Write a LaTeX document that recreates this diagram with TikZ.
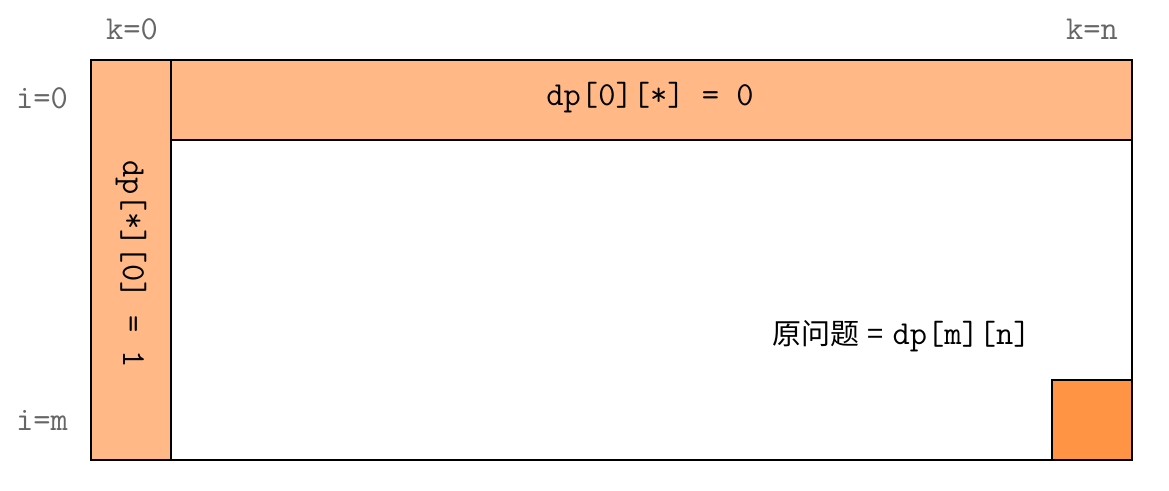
\documentclass[tikz,border=0pt]{standalone}
\usepackage{fontspec}
\newfontfamily\cjk{Noto Sans CJK SC}
\definecolor{lightor}{HTML}{FFB886}
\definecolor{darkor}{HTML}{FF9444}
\definecolor{lblgray}{HTML}{666666}
\begin{document}
\begin{tikzpicture}[x=1pt,y=-1pt,
  cell/.style={draw=black,line width=2pt,inner sep=0pt,outer sep=0pt,anchor=north west},
  mono/.style={font=\fontsize{33.5}{36}\selectfont\ttfamily,inner sep=0pt},
  lbl/.style={mono,text=lblgray}]
\useasboundingbox (0,0) rectangle (1169,490);
\node[cell,fill=white,minimum width=1041pt,minimum height=400pt] (grid) at (91,60) {};
\node[cell,fill=lightor,minimum width=961pt,minimum height=80pt] (toprow) at (171,60) {};
\node[cell,fill=lightor,minimum width=80pt,minimum height=400pt] (leftcol) at (91,60) {};
\node[cell,fill=darkor,minimum width=80pt,minimum height=80pt] (goal) at (1052,380) {};
\node[mono] (toptext) at (650,98) {dp[0][*] = 0};
\node[mono,rotate=-90] (lefttext) at (131,264) {dp[*][0] = 1};
\node[inner sep=0pt,anchor=west] (goaltext) at (772,336)
  {{\cjk\fontsize{29}{32}\selectfont 原问题\hspace{0.3em}=\hspace{0.3em}}{\fontsize{33.5}{36}\selectfont\ttfamily dp[m][n]}};
\node[lbl] (k0) at (132,29) {k=0};
\node[lbl] (kn) at (1092,29) {k=n};
\node[lbl] (i0) at (42,98) {i=0};
\node[lbl] (im) at (42,420) {i=m};
\end{tikzpicture}
\end{document}
